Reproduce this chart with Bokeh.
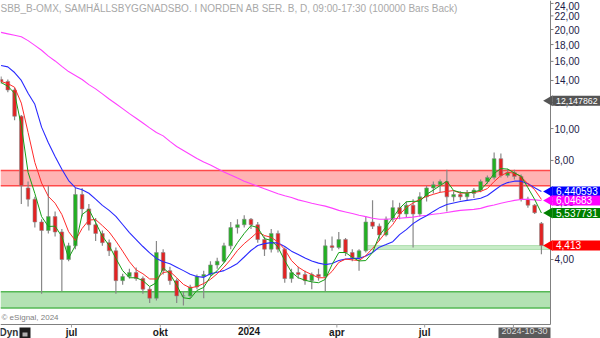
import math
import pandas as pd
from datetime import datetime, timedelta
from bokeh.plotting import figure
from bokeh.models import ColumnDataSource, Range1d, BoxAnnotation
from bokeh.core.properties import value
from bokeh.embed import file_html
from bokeh.resources import INLINE

# ---------------- data (weekly bars) ----------------
first_week = "2023-04-17"
opens = [14.1, 13.9, 13.1, 10.9, 6.6, 6.1, 5.2, 4.9, 5.4, 4.85,
         4.0, 4.4, 6.3, 5.7, 5.1, 4.8, 4.5, 4.25, 3.45, 3.55,
         3.65, 3.5, 3.25, 3.05, 4.2, 3.7, 3.45, 3.1, 3.1, 3.3,
         3.55, 3.6, 3.85, 3.95, 4.4, 5.0, 5.1, 5.3, 5.1, 4.6,
         4.3, 4.8, 4.3, 3.5, 3.65, 3.6, 3.45, 3.6, 3.55, 4.4,
         4.35, 4.6, 4.2, 4.05, 4.25, 5.2, 5.05, 4.75, 5.3, 5.75,
         5.5, 5.85, 5.5, 6.2, 6.6, 6.75, 6.9, 6.2, 6.3, 6.2,
         6.35, 6.5, 6.9, 7.1, 8.1, 7.2, 7.35, 7.15, 6.1, 5.85, 5.15]
highs = [14.4, 14.1, 13.3, 11.0, 6.9, 6.2, 5.3, 6.7, 5.6, 4.95,
         4.5, 6.6, 6.6, 5.9, 5.35, 4.9, 4.6, 4.35, 3.62, 3.75,
         3.78, 3.55, 3.3, 4.55, 4.3, 3.8, 3.5, 3.2, 3.35, 3.6,
         3.7, 3.95, 4.05, 4.5, 5.2, 5.3, 5.45, 5.35, 5.2, 4.7,
         4.95, 4.9, 4.35, 3.75, 3.8, 3.7, 3.65, 3.75, 4.6, 4.7,
         4.85, 4.65, 4.3, 4.3, 5.4, 6.05, 5.15, 5.4, 6.05, 5.95,
         6.0, 6.1, 6.4, 6.7, 6.9, 7.0, 7.5, 6.45, 6.45, 6.5,
         6.6, 7.0, 7.2, 8.45, 8.4, 7.55, 7.5, 7.25, 6.2, 5.9, 5.2]
lows = [13.7, 12.9, 10.6, 5.9, 5.8, 5.0, 3.15, 4.8, 4.7, 3.2,
        3.95, 4.3, 5.4, 4.9, 4.55, 4.4, 4.1, 3.15, 3.35, 3.5,
        3.45, 3.15, 2.95, 3.0, 3.6, 3.35, 2.95, 2.9, 3.05, 3.25,
        3.05, 3.55, 3.75, 3.9, 4.3, 4.8, 5.0, 4.95, 4.5, 4.1,
        4.2, 4.2, 3.4, 3.4, 3.5, 3.35, 3.25, 3.45, 3.2, 4.25,
        4.3, 4.1, 3.95, 3.7, 4.2, 4.95, 4.55, 4.7, 5.2, 5.3,
        5.35, 4.35, 5.4, 6.0, 6.35, 6.4, 5.6, 6.0, 6.05, 6.05,
        6.15, 6.4, 6.8, 7.0, 7.1, 7.1, 7.0, 6.0, 5.75, 5.5, 4.15]
closes = [13.9, 13.1, 10.9, 6.7, 6.1, 5.2, 4.9, 5.4, 4.85, 4.0,
          4.4, 6.3, 5.7, 5.1, 4.8, 4.5, 4.25, 3.45, 3.55, 3.65,
          3.5, 3.25, 3.05, 4.2, 3.7, 3.45, 3.1, 3.1, 3.3, 3.55,
          3.6, 3.85, 3.95, 4.4, 5.0, 5.1, 5.3, 5.1, 4.6, 4.3,
          4.8, 4.3, 3.5, 3.65, 3.6, 3.45, 3.6, 3.55, 4.4, 4.35,
          4.6, 4.2, 4.05, 4.25, 5.2, 5.05, 4.75, 5.3, 5.75, 5.5,
          5.85, 5.5, 6.2, 6.6, 6.75, 6.9, 6.2, 6.3, 6.2, 6.35,
          6.5, 6.9, 7.1, 8.1, 7.2, 7.35, 7.15, 6.1, 5.85, 5.55, 4.413]

# moving averages read at the same weekly dates
ma_green = [13.8, 13.45, 12.8, 10.2, 7.36, 6.35, 5.40, 5.04, 5.05, 4.70,
            4.04, 4.41, 5.48, 5.68, 5.18, 4.71, 4.41, 4.03, 3.70, 3.52,
            3.52, 3.45, 3.31, 3.40, 3.77, 3.62, 3.34, 3.06, 3.04, 3.22,
            3.29, 3.55, 3.70, 3.91, 4.18, 4.50, 4.80, 5.07, 5.00, 4.63,
            4.57, 4.36, 3.97, 3.66, 3.52, 3.46, 3.42, 3.40, 3.48, 3.86,
            4.20, 4.20, 4.06, 3.96, 3.97, 4.20, 4.73, 5.03, 5.36, 5.72,
            5.99, 6.01, 6.01, 6.31, 6.50, 6.71, 6.92, 6.48, 6.40, 6.36,
            6.42, 6.50, 6.85, 7.30, 7.56, 7.53, 7.33, 7.16, 6.61, 6.09, 5.537731]
ma_red = [13.9, 13.7, 13.35, 11.95, 9.73, 7.89, 6.83, 6.22, 5.93, 5.48,
          4.86, 4.57, 4.97, 5.27, 5.29, 5.07, 4.85, 4.55, 4.24, 3.94,
          3.72, 3.62, 3.49, 3.49, 3.65, 3.68, 3.52, 3.36, 3.28, 3.31,
          3.38, 3.48, 3.62, 3.79, 4.00, 4.26, 4.47, 4.65, 4.85, 4.73,
          4.67, 4.52, 4.29, 3.97, 3.79, 3.68, 3.60, 3.52, 3.52, 3.68,
          3.92, 4.01, 3.99, 3.97, 4.11, 4.32, 4.57, 4.85, 5.11, 5.48,
          5.76, 5.94, 6.09, 6.22, 6.31, 6.40, 6.44, 6.48, 6.36, 6.38,
          6.40, 6.44, 6.57, 6.90, 7.20, 7.35, 7.33, 7.13, 6.80, 6.52, 6.09]
ma_blue = [15.55, 15.4, 14.8, 14.0, 12.8, 11.85, 10.1, 9.06, 8.23, 7.52,
           6.95, 6.61, 6.52, 6.36, 6.10, 5.84, 5.64, 5.41, 5.11, 4.83,
           4.60, 4.38, 4.19, 4.03, 3.94, 3.88, 3.79, 3.70, 3.61, 3.55,
           3.53, 3.62, 3.66, 3.70, 3.79, 3.89, 4.07, 4.26, 4.41, 4.47,
           4.50, 4.49, 4.38, 4.24, 4.14, 4.04, 3.96, 3.90, 3.86, 3.89,
           3.97, 4.01, 4.03, 4.03, 4.10, 4.20, 4.36, 4.44, 4.53, 4.76,
           4.93, 5.14, 5.30, 5.43, 5.60, 5.76, 5.88, 5.94, 6.00, 6.05,
           6.09, 6.14, 6.26, 6.48, 6.71, 6.85, 6.92, 6.92, 6.80, 6.61, 6.440593]
ma_magenta = [19.6, 19.4, 19.2, 19.0, 18.5, 17.9, 17.3, 16.6, 16.05, 15.45,
              14.9, 14.5, 14.1, 13.6, 13.2, 12.75, 12.3, 11.9, 11.5, 11.1,
              10.75, 10.4, 10.05, 9.73, 9.5, 9.14, 8.82, 8.58, 8.34, 8.11,
              7.91, 7.75, 7.56, 7.38, 7.23, 7.07, 6.92, 6.80, 6.68, 6.56,
              6.45, 6.34, 6.25, 6.17, 6.07, 6.00, 5.93, 5.87, 5.81, 5.73,
              5.64, 5.58, 5.52, 5.45, 5.40, 5.34, 5.30, 5.30, 5.32, 5.34,
              5.36, 5.38, 5.42, 5.45, 5.49, 5.52, 5.56, 5.60, 5.64, 5.66,
              5.68, 5.72, 5.80, 5.86, 5.93, 5.99, 6.05, 6.09, 6.09, 6.07, 6.04683]

resistance_zone = [6.70, 7.46]
support_zone = [2.85, 3.19]
level_zone = [4.29, 4.41]
level_zone_start = "2024-04-30"

marker_texts = ["12,147862", "6,440593", "6,04683", "5,537731", "4,413"]
marker_values = [12.147862, 6.440593, 6.04683, 5.537731, 4.413]
marker_colors = ["#555555", "#0000ff", "#ff00ff", "#008000", "#ff0000"]

tick_dates = ["2023-07-01", "2023-10-01", "2024-01-01", "2024-04-01", "2024-07-01", "2024-10-01"]
tick_labels = ["jul", "okt", "2024", "apr", "jul", ""]
y_ticks = [4, 6, 8, 10, 12, 14, 16, 18, 20, 22, 24]

title_text = "SBB_B-OMX, SAMHÄLLSBYGGNADSBO. I NORDEN AB SER. B, D, 09:00-17:30 (100000 Bars Back)"
credit_text = "© eSignal, 2024"
last_date_text = "2024-10-30"

# ---------------- pixel helpers (layout only) ----------------
X0 = datetime(2023, 4, 18, 10)
DAYS_PER_PX = 570 / 550
Y_TOP, Y_BOT, H_DATA = 24.5, 2.538, 324


def xd(px):
    return X0 + timedelta(days=px * DAYS_PER_PX)


def yd(py):
    return Y_TOP * (Y_BOT / Y_TOP) ** (py / H_DATA)


def ypx(v):
    return H_DATA * math.log(Y_TOP / v) / math.log(Y_TOP / Y_BOT)


FONT = value("Liberation Sans")

# ---------------- build ----------------
weeks = pd.date_range(first_week, periods=len(closes), freq="7D")
xc = weeks + pd.Timedelta(days=2)
up = [c >= o for o, c in zip(opens, closes)]
src = ColumnDataSource(dict(
    x=xc, o=opens, h=highs, l=lows, c=closes,
    top=[max(o, c) for o, c in zip(opens, closes)],
    bot=[min(o, c) for o, c in zip(opens, closes)],
    color=["#22b022" if u else "#e32222" for u in up],
))

p = figure(width=600, height=338, frame_width=600, frame_height=338,
           x_axis_type="datetime", y_axis_type="log",
           x_axis_location=None, y_axis_location=None,
           x_range=Range1d(xd(0), xd(600)), y_range=Range1d(yd(338), yd(0)),
           output_backend="svg", toolbar_location=None, min_border=0)
p.outline_line_color = None
p.grid.visible = False
p.background_fill_color = "white"
p.border_fill_color = "white"

# zones
p.add_layout(BoxAnnotation(right=xd(550), bottom=resistance_zone[0], top=resistance_zone[1],
                           fill_color="#ffb3b3", fill_alpha=1, line_alpha=0, level="underlay"))
p.add_layout(BoxAnnotation(right=xd(550), bottom=support_zone[0], top=support_zone[1],
                           fill_color="#b3e2b3", fill_alpha=1, line_alpha=0, level="underlay"))
p.add_layout(BoxAnnotation(left=pd.Timestamp(level_zone_start), right=xd(550),
                           bottom=level_zone[0], top=level_zone[1],
                           fill_color="#c8ecc8", fill_alpha=1, line_color="#40b040", line_width=1,
                           level="underlay"))
p.segment(x0=[xd(0)] * 2, x1=[xd(550)] * 2, y0=resistance_zone, y1=resistance_zone,
          line_color="#ff4a4a", line_width=1.5)
p.segment(x0=[xd(0)] * 2, x1=[xd(550)] * 2, y0=support_zone, y1=support_zone,
          line_color="#55b855", line_width=1.5)

# candles
p.segment(x0="x", y0="l", x1="x", y1="h", source=src, line_color="#888888", line_width=1.2)
p.vbar(x="x", width=3.8 * 86400000, top="top", bottom="bot", source=src,
       fill_color="color", line_color="#888888", line_width=0.6)

# moving averages
p.line(xc, ma_magenta, line_color="#ff40ff", line_width=1.1)
p.line(xc, ma_blue, line_color="#2a2aff", line_width=1.1)
p.line(xc, ma_red, line_color="#ff2a2a", line_width=1.0)
p.line(xc, ma_green, line_color="#16a016", line_width=1.0)

# ---- hand-drawn axes (frame covers the whole canvas) ----
p.segment(x0=[xd(550)], y0=[yd(0)], x1=[xd(550)], y1=[yd(324)], line_color="#808080", line_width=1)
p.segment(x0=[xd(0)], y0=[yd(324)], x1=[xd(550)], y1=[yd(324)], line_color="#808080", line_width=1)
# y ticks and labels (the topmost label is nudged so it stays inside the canvas)
p.segment(x0=[xd(550)] * len(y_ticks), x1=[xd(553)] * len(y_ticks), y0=y_ticks, y1=y_ticks,
          line_color="#808080", line_width=1)
p.text(x=[xd(554)] * len(y_ticks), y=[yd(max(ypx(t), 5.5)) for t in y_ticks],
       text=[f"{t:.2f}".replace(".", ",") for t in y_ticks],
       text_font=FONT, text_font_size="10px", text_color="#1c1c48",
       text_baseline="middle", text_align="left")
# x ticks and labels
tick_ts = [pd.Timestamp(d) for d in tick_dates]
p.segment(x0=tick_ts, x1=tick_ts, y0=[yd(324)] * len(tick_ts), y1=[yd(327)] * len(tick_ts),
          line_color="#a0a0a0", line_width=1)
p.text(x=tick_ts, y=[yd(326.5)] * len(tick_ts), text=tick_labels,
       text_font=FONT, text_font_size="10px", text_font_style="bold", text_color="#1a1a1a",
       text_baseline="top", text_align="center")

# bottom-left "Dyn" + lock
p.text(x=[xd(-1)], y=[yd(326.5)], text=["Dyn"], text_font=FONT, text_font_size="10px",
       text_font_style="bold", text_color="#333333", text_baseline="top", text_align="left")
p.quad(left=[xd(19)], right=[xd(30)], top=[yd(327)], bottom=[yd(338)],
       fill_color="#1e1e1e", line_color=None)
p.quad(left=[xd(22)], right=[xd(27)], top=[yd(332)], bottom=[yd(336)],
       fill_color="#b0b0b0", line_color=None)

# last date box
p.quad(left=[xd(498)], right=[xd(550)], top=[yd(327)], bottom=[yd(338)],
       fill_color="#5a5a5a", line_color=None)
p.text(x=[xd(524)], y=[yd(327.5)], text=[last_date_text], text_font=FONT, text_font_size="9px",
       text_color="#dcdcdc", text_baseline="top", text_align="center")

# title and credit
p.text(x=[xd(0)], y=[yd(8)], text=[title_text], text_font=FONT, text_font_size="10px",
       text_color="#a8a8a8", text_baseline="middle", text_align="left")
p.text(x=[xd(1)], y=[yd(317)], text=[credit_text], text_font=FONT, text_font_size="8px",
       text_color="#808080", text_baseline="middle", text_align="left")

# value markers on the right
n = len(marker_values)
p.quad(left=[xd(552)] * n, right=[xd(600)] * n,
       top=[yd(ypx(v) - 5) for v in marker_values],
       bottom=[yd(ypx(v) + 5) for v in marker_values],
       fill_color=marker_colors, line_color=None)
p.scatter(x=[xd(549)] * n, y=marker_values, marker="triangle", size=11, angle=math.pi / 2,
          fill_color=marker_colors, line_color=None)
p.text(x=[xd(555.5)] * n, y=marker_values, text=marker_texts, text_font=FONT,
       text_font_size=["8.8px" if len(t) > 8 else "10px" for t in marker_texts],
       text_color="white", text_baseline="middle", text_align="left")

open("out.html", "w").write(file_html(p, INLINE))
